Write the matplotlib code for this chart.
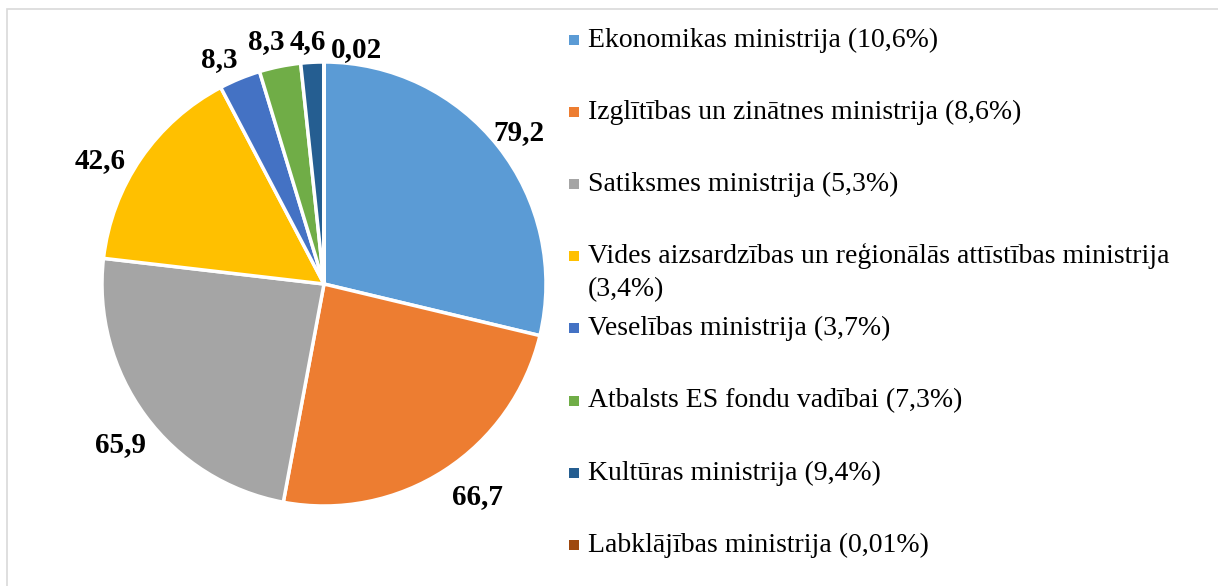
import numpy as np
import matplotlib
matplotlib.use("Agg")
import matplotlib.pyplot as plt
from matplotlib.patches import Rectangle

plt.rcParams['font.family'] = ['Liberation Serif', 'DejaVu Serif']

# data
ministrijas = [
    "Ekonomikas ministrija (10,6%)",
    "Izglītības un zinātnes ministrija (8,6%)",
    "Satiksmes ministrija (5,3%)",
    "Vides aizsardzības un reģionālās attīstības ministrija\n(3,4%)",
    "Veselības ministrija (3,7%)",
    "Atbalsts ES fondu vadībai (7,3%)",
    "Kultūras ministrija (9,4%)",
    "Labklājības ministrija (0,01%)",
]
vertibas = [79.2, 66.7, 65.9, 42.6, 8.3, 8.3, 4.6, 0.02]
etiketes = ["79,2", "66,7", "65,9", "42,6", "8,3", "8,3", "4,6", "0,02"]
krasas = ["#5B9BD5", "#ED7D31", "#A5A5A5", "#FFC000",
          "#4472C4", "#70AD47", "#255E91", "#9E480E"]

# label placement tweaks (angle shift in degrees, radius in pie radii)
lbl_dtheta = [0, 3.3, 1.3, 5, 2.4, 1.9, 0.8, -7.7]
lbl_r = [1.12, 1.17, 1.16, 1.16, 1.13, 1.135, 1.11, 1.08]

W, H = 1218, 586
fig = plt.figure(figsize=(W / 100, H / 100), dpi=100)

# light frame around chart
fig.patches.append(Rectangle((7 / W, -0.1), 1.2, 1 - 9 / H + 0.1, transform=fig.transFigure,
                             fill=False, edgecolor="#D9D9D9", linewidth=1.2))

cx, cy, R = 324, 284, 222
ax = fig.add_axes([(cx - R) / W, (H - cy - R) / H, 2 * R / W, 2 * R / H])
wedges, _ = ax.pie(vertibas, colors=krasas, startangle=90, counterclock=False,
                   radius=1, wedgeprops={"edgecolor": "white", "linewidth": 2.5})
ax.set_xlim(-1, 1)
ax.set_ylim(-1, 1)
ax.set_aspect("equal")
ax.axis("off")

for w, lab, dt, r in zip(wedges, etiketes, lbl_dtheta, lbl_r):
    th = np.deg2rad((w.theta1 + w.theta2) / 2 + dt)
    ax.text(r * np.cos(th), r * np.sin(th), lab, ha="center", va="center_baseline",
            fontsize=21, fontweight="bold", clip_on=False)

# legend drawn by hand
y0, dy, line_h = 47, 72.1, 33
for i, (lab, c) in enumerate(zip(ministrijas, krasas)):
    yb = y0 + dy * i
    fig.patches.append(Rectangle((569 / W, 1 - (yb - 2) / H), 10 / W, 10 / H,
                                 transform=fig.transFigure, facecolor=c, edgecolor="none"))
    for j, rinda in enumerate(lab.split("\n")):
        fig.text(588 / W, 1 - (yb + j * line_h) / H, rinda, ha="left", va="baseline",
                 fontsize=20)

fig.savefig("out.png", dpi=100)
